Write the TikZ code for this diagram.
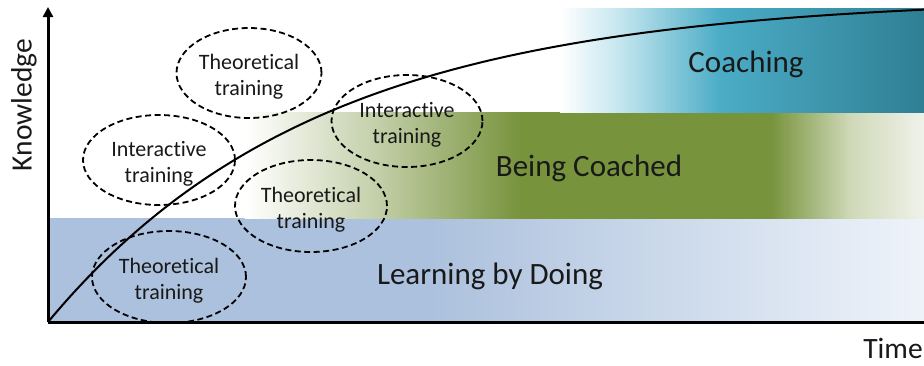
\documentclass[tikz,border=0pt]{standalone}
\usepackage{fontspec}
\setmainfont{Carlito}[Ligatures=NoCommon]
\usetikzlibrary{shapes.geometric,arrows.meta}
\definecolor{bandblue}{RGB}{172,193,221}
\definecolor{bandbluelight}{RGB}{238,243,250}
\definecolor{olive}{RGB}{119,147,60}
\definecolor{olivehalf}{RGB}{194,206,167}
\definecolor{olivefade}{RGB}{207,217,184}
\definecolor{olivelight}{RGB}{240,242,234}
\definecolor{tealmid}{RGB}{75,172,198}
\definecolor{tealdark}{RGB}{47,127,148}
\definecolor{teallight}{RGB}{196,230,239}
\definecolor{txt}{RGB}{25,25,25}
\pgfdeclarehorizontalshading{blueband}{100bp}{color(0bp)=(bandblue); color(25bp)=(bandblue); color(46.8bp)=(bandblue); color(75bp)=(bandbluelight); color(100bp)=(bandbluelight)}
\pgfdeclarehorizontalshading{greenband}{100bp}{color(0bp)=(white); color(25bp)=(white); color(34.9bp)=(olivehalf); color(45.3bp)=(olive); color(63.7bp)=(olive); color(69.6bp)=(olivefade); color(75bp)=(olivelight); color(100bp)=(olivelight)}
\pgfdeclarehorizontalshading{tealband}{100bp}{color(0bp)=(white); color(25bp)=(white); color(33.2bp)=(teallight); color(47bp)=(tealmid); color(75bp)=(tealdark); color(100bp)=(tealdark)}
\tikzset{
  ell/.style={ellipse, draw=black, line width=1.8pt, dash pattern=on 6pt off 3.5pt, inner sep=0pt},
  elltext/.style={align=center, font=\fontsize{22}{26}\selectfont, text=txt, inner sep=0pt},
  bandtext/.style={font=\fontsize{31}{34}\selectfont, text=txt},
  axislbl/.style={font=\fontsize{29.5}{32}\selectfont, text=txt},
  axisline/.style={line width=3pt, black},
  curve/.style={line width=2pt, black}
}
\begin{document}
\begin{tikzpicture}[x=1pt,y=-1pt]
\useasboundingbox (0,0) rectangle (924,365);
\begin{scope}
\clip (0,0) rectangle (924,365);
% bands
\shade[shading=blueband] (48,218) rectangle (924,322);
\shade[shading=greenband] (245,112) rectangle (924,218);
\shade[shading=tealband] (560,8) rectangle (924,112);
% band labels
\node[bandtext] (coach) at (746,64) {Coaching};
\node[bandtext] (beingc) at (589,168) {Being Coached};
\node[bandtext] (lbd) at (490,276) {Learning by Doing};
% ellipses
\node[ell, minimum width=145pt, minimum height=90pt] (e1) at (249,73) {};
\node[ell, minimum width=152pt, minimum height=90pt] (e2) at (159,160) {};
\node[ell, minimum width=152pt, minimum height=92pt] (e3) at (311,206) {};
\node[ell, minimum width=154pt, minimum height=92pt] (e4) at (169,277) {};
\node[ell, minimum width=151pt, minimum height=92pt] (e5) at (407,121) {};
\node[elltext] (t1) at ([yshift=-3.5pt]e1.center) {Theoretical\\training};
\node[elltext] (t2) at ([yshift=-3.5pt]e2.center) {Interactive\\training};
\node[elltext] (t3) at ([yshift=-3.5pt]e3.center) {Theoretical\\training};
\node[elltext] (t4) at ([yshift=-3.5pt]e4.center) {Theoretical\\training};
\node[elltext] (t5) at ([yshift=-3.5pt]e5.center) {Interactive\\training};
% curve
\coordinate (o) at (48,322);
\draw[curve] plot[domain=0:876, samples=120] ({48+\x},{322-325*(1-exp(-\x/270))});
% axes
\coordinate (ytop) at (48,7);
\coordinate (xend) at (930,322);
\draw[axisline, -{Triangle[width=10pt,length=10pt]}] (o) -- (ytop);
\draw[axisline] (o) -- (xend);
\end{scope}
\node[axislbl, rotate=90] (know) at (24,105) {Knowledge};
\node[axislbl] (time) at (893,348) {Time};
\end{tikzpicture}
\end{document}
